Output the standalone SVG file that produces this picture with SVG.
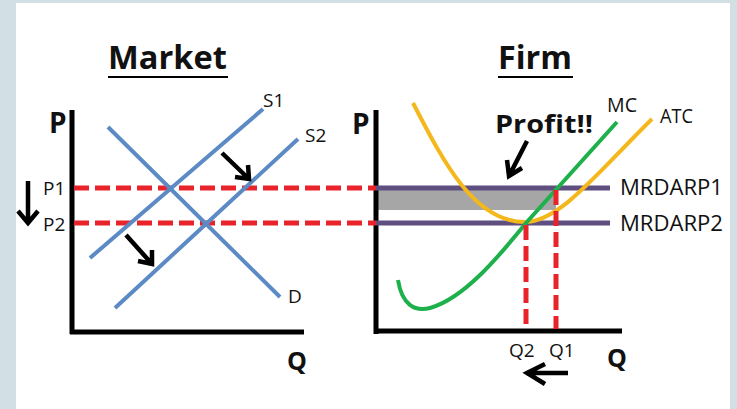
<svg xmlns="http://www.w3.org/2000/svg" width="737" height="409" viewBox="0 0 737 409">
<defs>
<style>
.t{font-family:"Open Sans","Liberation Sans",sans-serif;fill:#111}
.b{font-weight:bold}
.ax{stroke:#000;stroke-width:5;fill:none;stroke-linecap:butt}
.sd{stroke:#5b8ac4;stroke-width:4;fill:none}
.rd{stroke:#e8232a;stroke-width:5;fill:none;stroke-dasharray:15 6}
.pl{stroke:#5e4f80;stroke-width:5;fill:none}
.ar{stroke:#000;stroke-width:4.5;fill:none;stroke-linecap:butt;stroke-linejoin:miter}
</style>
</defs>
<rect x="0" y="0" width="737" height="409" fill="#d2dfe4"/>
<rect x="16" y="3" width="714" height="406" fill="#ffffff"/>

<g id="market">
<text class="t b" x="108" y="69" font-size="32" textLength="119" lengthAdjust="spacingAndGlyphs">Market</text>
<line x1="108" y1="77" x2="228" y2="77" stroke="#000" stroke-width="2"/>
<path class="ax" d="M72,110 V334 M70,332 H304"/>
<text class="t b" x="49" y="133" font-size="28">P</text>
<text class="t b" x="287" y="370" font-size="25">Q</text>
<text class="t" x="43" y="195" font-size="19">P1</text>
<text class="t" x="43" y="231" font-size="19">P2</text>
</g>

<g id="firm">
<text class="t b" x="498" y="69" font-size="32" textLength="74" lengthAdjust="spacingAndGlyphs">Firm</text>
<line x1="498" y1="77" x2="573" y2="77" stroke="#000" stroke-width="2"/>
<rect x="378" y="188" width="178" height="22" fill="#a6a6a6"/>
<path class="ax" d="M376,110 V334 M374,331 H622"/>
<text class="t b" x="352" y="134" font-size="28">P</text>
<text class="t b" x="607" y="367" font-size="25">Q</text>
</g>

<g id="connectors">
<line class="rd" x1="74" y1="188" x2="376" y2="188"/>
<line class="rd" x1="74" y1="223" x2="376" y2="223"/>
<line class="sd" x1="90" y1="258" x2="263" y2="109"/>
<line class="sd" x1="115" y1="308" x2="298" y2="139"/>
<line class="sd" x1="108" y1="127" x2="280" y2="297"/>
<line class="pl" x1="376" y1="188" x2="610" y2="188"/>
<line class="pl" x1="376" y1="223" x2="610" y2="223"/>
<path d="M413,103 C445,165 475,222 525,222 C560,222 600,170 652,119" stroke="#f4b81c" stroke-width="4" fill="none"/>
<path d="M398,280 C402,305 415,312 430,308 C465,298 500,255 526,223 L617,122" stroke="#1db04b" stroke-width="4" fill="none"/>
<line class="rd" x1="526" y1="225" x2="526" y2="329"/>
<line class="rd" x1="556" y1="190" x2="556" y2="329"/>
<path class="ar" d="M222,153 L249,179 M235,177 L249,179 L248,165"/>
<path class="ar" d="M126,235 L152,264 M138,261 L152,264 L152,250"/>
<path class="ar" d="M28,181 V222 M18,211 L28,223 L38,211"/>
<path class="ar" d="M527,141 L509,176 M507,160 L509,176 L522,168"/>
<path class="ar" d="M568,373 H526 M545,364 L527,373 L545,384"/>
</g>

<g id="labels">
<text class="t" x="263" y="107" font-size="19">S1</text>
<text class="t" x="305" y="142" font-size="19">S2</text>
<text class="t" x="288" y="303" font-size="19">D</text>
<text class="t b" x="495" y="133" font-size="25" textLength="98" lengthAdjust="spacingAndGlyphs">Profit!!</text>
<text class="t" x="607" y="112" font-size="20" textLength="30" lengthAdjust="spacingAndGlyphs">MC</text>
<text class="t" x="660" y="123" font-size="20" textLength="33" lengthAdjust="spacingAndGlyphs">ATC</text>
<text class="t" x="620" y="195" font-size="21" textLength="103" lengthAdjust="spacingAndGlyphs">MRDARP1</text>
<text class="t" x="620" y="231" font-size="21" textLength="103" lengthAdjust="spacingAndGlyphs">MRDARP2</text>
<text class="t" x="509" y="357" font-size="19">Q2</text>
<text class="t" x="549" y="357" font-size="19">Q1</text>
</g>
</svg>
